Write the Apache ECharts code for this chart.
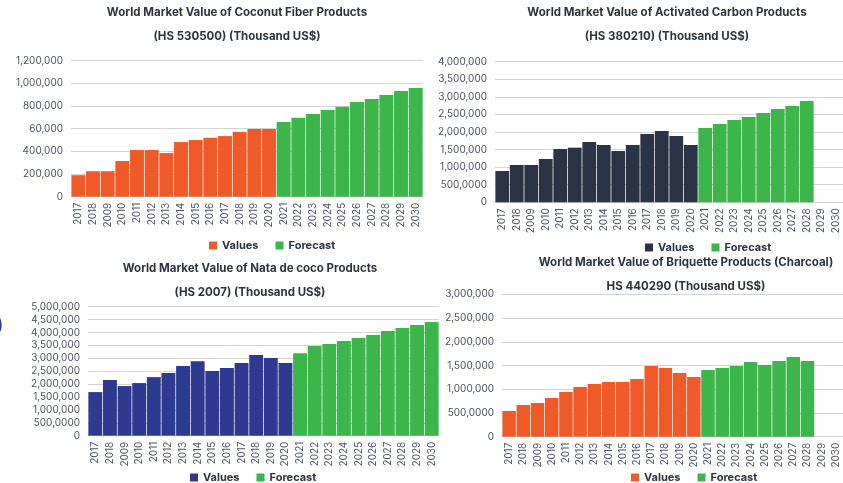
<!DOCTYPE html>
<html>
<head>
<meta charset="utf-8">
<script src="https://cdn.jsdelivr.net/npm/echarts@6/dist/echarts.min.js"></script>
<style>
  html, body { margin: 0; padding: 0; background: #fff; }
  #chart { width: 843px; height: 483px; }
</style>
</head>
<body>
<div id="chart"></div>
<script>
// x labels as printed on the source (duplicates and typos kept)
const years = ["2017", "2018", "2009", "2010", "2011", "2012", "2013", "2014", "2015", "2016",
    "2017", "2018", "2019", "2020", "2021", "2022", "2023", "2024", "2025", "2026",
    "2027", "2028", "2029", "2030"];

// coconut fiber
const coconutValues = [190000, 225000, 225000, 315000, 412000, 412000, 385000, 482000, 500000, 520000,
    535000, 570000, 597000, 597000];
const coconutForecast = [659000, 697000, 729000, 765000, 794000, 835000, 862000, 897000, 932000, 959000];
const coconutTicks = ["0", "200,000", "400,000", "60,000", "800,000", "1,000,000", "1,200,000"];

// activated carbon
const carbonValues = [890000, 1062000, 1062000, 1232000, 1517000, 1555000, 1716000, 1630000, 1460000, 1630000,
    1943000, 2028000, 1886000, 1630000];
const carbonForecast = [2114000, 2227000, 2341000, 2427000, 2540000, 2654000, 2739000, 2882000, null, null];
const carbonTicks = ["0", "500,0000", "1,000,000", "1,500,000", "2,000,000", "2,500,000", "3,000,000", "3,500,000", "4,000,000"];

// nata de coco
const nataValues = [1690000, 2160000, 1925000, 2040000, 2270000, 2430000, 2700000, 2890000, 2510000, 2620000,
    2820000, 3130000, 3010000, 2820000];
const nataForecast = [3200000, 3480000, 3550000, 3670000, 3790000, 3900000, 4060000, 4170000, 4290000, 4410000];
const nataTicks = ["0", "500,0000", "1,000,000", "1,500,000", "2,000,000", "2,500,000", "3,000,000", "3,500,000", "4,000,000", "4,500,000", "5,000,000"];

// briquette
const briqValues = [541000, 668000, 710000, 815000, 942000, 1047000, 1110000, 1152000, 1152000, 1216000,
    1490000, 1448000, 1342000, 1258000];
const briqForecast = [1405000, 1448000, 1490000, 1574000, 1511000, 1595000, 1680000, 1595000, null, null];
const briqTicks = ["0", "500,0000", "1,000,000", "1,500,000", "2,000,000", "2,500,000", "3,000,000"];

const orange = "#f05a28";
const green = "#3cb54a";
const navy = "#2b3444";
const blue = "#2e3a8f";
const textColor = "#2b3444";
const labelColor = "#4b5366";
const gridColor = "#d3d3d3";

function pad(values, forecast) {
    return {
        v: values.concat(forecast.map(() => null)),
        f: values.map(() => null).concat(forecast)
    };
}

const panels = [
    {values: coconutValues, forecast: coconutForecast, ticks: coconutTicks, max: 1200000, interval: 200000,
        color: orange, grid: {left: 71, top: 60.7, width: 352, height: 136},
        legend: {left: 204, top: 235}},
    {values: carbonValues, forecast: carbonForecast, ticks: carbonTicks, max: 4000000, interval: 500000,
        color: navy, grid: {left: 495, top: 61.7, width: 351, height: 140.6},
        legend: {left: 640, top: 237}},
    {values: nataValues, forecast: nataForecast, ticks: nataTicks, max: 5000000, interval: 500000,
        color: blue, grid: {left: 88, top: 306.7, width: 351, height: 129},
        legend: {left: 185, top: 467}},
    {values: briqValues, forecast: briqForecast, ticks: briqTicks, max: 3000000, interval: 500000,
        color: orange, grid: {left: 502, top: 294.3, width: 350, height: 142.4},
        legend: {left: 626, top: 467}}
];

const titles = [
    {x: 237, y: 13, text: "World Market Value of Coconut Fiber Products"},
    {x: 237, y: 37, text: "(HS 530500) (Thousand US$)"},
    {x: 667, y: 13, text: "World Market Value of Activated Carbon Products"},
    {x: 667, y: 37, text: "(HS 380210) (Thousand US$)"},
    {x: 250, y: 269, text: "World Market Value of Nata de coco Products"},
    {x: 250, y: 293, text: "(HS 2007) (Thousand US$)"},
    {x: 686, y: 263, text: "World Market Value of Briquette Products (Charcoal)"},
    {x: 686, y: 287, text: "HS 440290 (Thousand US$)"}
];

// category slots are indexed, because the year labels repeat
const slots = years.map((y, i) => String(i));

const option = {
    animation: false,
    textStyle: {fontFamily: "Inter, 'Noto Sans', sans-serif"},
    grid: [],
    xAxis: [],
    yAxis: [],
    legend: [],
    series: [],
    graphic: titles.map(t => ({
        type: "text",
        x: t.x,
        y: t.y,
        style: {
            text: t.text,
            fill: textColor,
            font: "bold 11.5px Inter, 'Noto Sans', sans-serif",
            align: "center",
            verticalAlign: "middle"
        }
    })).concat([{
        type: "text",
        x: -4,
        y: 325,
        style: {
            text: ")",
            fill: blue,
            font: "600 20px Inter, 'Noto Sans', sans-serif",
            verticalAlign: "middle"
        }
    }])
};

panels.forEach((p, i) => {
    const d = pad(p.values, p.forecast);
    option.grid.push(Object.assign({containLabel: false}, p.grid));
    option.xAxis.push({
        type: "category",
        gridIndex: i,
        data: slots,
        axisLine: {lineStyle: {color: gridColor, width: 1.2}},
        axisTick: {show: false},
        axisLabel: {
            rotate: 90,
            interval: 0,
            margin: 6,
            fontSize: 10,
            color: labelColor,
            formatter: v => years[Number(v)]
        }
    });
    option.yAxis.push({
        type: "value",
        gridIndex: i,
        min: 0,
        max: p.max,
        interval: p.interval,
        axisLine: {show: false},
        axisTick: {show: false},
        splitLine: {lineStyle: {color: gridColor, width: 1.2}},
        axisLabel: {
            fontSize: 10,
            color: labelColor,
            margin: 8,
            formatter: v => p.ticks[Math.round(v / p.interval)]
        }
    });
    option.series.push({
        name: "Values",
        type: "bar",
        xAxisIndex: i,
        yAxisIndex: i,
        stack: "s" + i,
        barCategoryGap: "5%",
        itemStyle: {color: p.color},
        data: d.v
    });
    option.series.push({
        name: "Forecast",
        type: "bar",
        xAxisIndex: i,
        yAxisIndex: i,
        stack: "s" + i,
        barCategoryGap: "5%",
        itemStyle: {color: green},
        data: d.f
    });
    option.legend.push({
        left: p.legend.left,
        top: p.legend.top,
        icon: "rect",
        itemWidth: 8,
        itemHeight: 8,
        itemGap: 17,
        selectedMode: false,
        textStyle: {fontSize: 11, fontWeight: "bold", color: textColor},
        data: [
            {name: "Values", itemStyle: {color: p.color}},
            {name: "Forecast", itemStyle: {color: green}}
        ]
    });
});

const chart = echarts.init(document.getElementById("chart"));
chart.setOption(option);
</script>
</body>
</html>
